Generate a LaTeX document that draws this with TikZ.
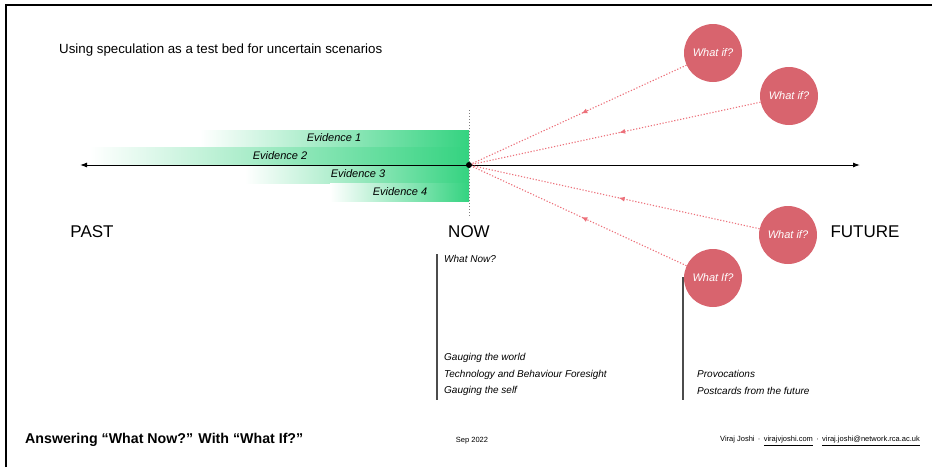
\documentclass[tikz,border=0pt]{standalone}
\usepackage{fontspec}
\setmainfont{Liberation Sans}
\usetikzlibrary{arrows.meta,decorations.markings}

\definecolor{whatred}{RGB}{216,100,110}
\definecolor{linered}{RGB}{236,112,122}
\definecolor{evgreen}{RGB}{52,211,128}
\definecolor{evteal}{RGB}{165,225,215}

\tikzset{
  evbar/.style={left color=white, middle color=evteal, right color=evgreen, draw=none},
  evtext/.style={font=\fontsize{11}{13}\selectfont\itshape, inner sep=0pt},
  whatif/.style={circle, fill=whatred, minimum size=58pt, inner sep=0pt, text=white,
    font=\fontsize{11}{13}\selectfont\itshape},
  whatline/.style={linered, line width=1.1pt, dash pattern=on 1.2pt off 1.8pt,
    postaction={decorate}, decoration={markings,
      mark=at position 0.49 with {\arrow{Latex[length=6pt,width=5pt]}}}},
  epoch/.style={font=\fontsize{17}{19}\selectfont, inner sep=0pt},
  notetext/.style={anchor=west, font=\fontsize{10}{12}\selectfont\itshape, inner sep=0pt},
  foot/.style={font=\fontsize{7.5}{9}\selectfont, inner sep=0pt},
}

\begin{document}
\begin{tikzpicture}[x=1pt,y=1pt,yscale=-1,xscale=1]
\useasboundingbox (0,0) rectangle (932,467);

%Frame
\draw[line width=1.5pt] (6,467) -- (6,5) -- (932,5);

% Text Node
\node[anchor=west, inner sep=0pt, font=\fontsize{13.3}{15}\selectfont] (title) at (59,50) {Using speculation as a test bed for uncertain scenarios};

%Evidence bars
\fill[evbar] (200,130) rectangle (469,147.5);
\fill[evbar] (90,147.5) rectangle (469,165);
\fill[evbar] (245,165) rectangle (469,183);
\fill[evbar] (330,183) rectangle (469,201);

% Text Node
\node[evtext] (ev1) at (334,138) {Evidence 1};
% Text Node
\node[evtext] (ev2) at (280,155.5) {Evidence 2};
% Text Node
\node[evtext] (ev3) at (358,173.5) {Evidence 3};
% Text Node
\node[evtext] (ev4) at (400,191.5) {Evidence 4};

%Now marker
\coordinate (nowtop) at (469,110);
\coordinate (nowbot) at (469,216);
\draw[gray, line width=1pt, dotted] (nowtop) -- (nowbot);

%Time axis
\coordinate (axl) at (80,165);
\coordinate (axr) at (860,165);
\draw[line width=1pt, {Latex[length=7pt,width=5pt]}-{Latex[length=7pt,width=5pt]}] (axl) -- (axr);
\node[circle, fill=black, inner sep=0pt, minimum size=6pt] (now) at (469,165) {};

% Text Node
\node[epoch] (past) at (92,232) {PAST};
% Text Node
\node[epoch] (nowlbl) at (469,232) {NOW};
% Text Node
\node[epoch] (future) at (865,232) {FUTURE};

%Note columns
\coordinate (lt) at (437,254);
\coordinate (lb) at (437,400);
\coordinate (rt) at (683,277);
\coordinate (rb) at (683,400);
\draw[black!70, line width=1.3pt] (lt) -- (lb);
\draw[black!70, line width=1.3pt] (rt) -- (rb);

% Text Node
\node[notetext] (whatnow) at (444,259) {What Now?};
% Text Node
\node[notetext] (world) at (444,358) {Gauging the world};
% Text Node
\node[notetext] (tech) at (444,375) {Technology and Behaviour Foresight};
% Text Node
\node[notetext] (self) at (444,391) {Gauging the self};
% Text Node
\node[notetext] (prov) at (697,374) {Provocations};
% Text Node
\node[notetext] (post) at (697,391) {Postcards from the future};

%What if circles
\node[whatif] (w1) at (713,53) {What if?};
\node[whatif] (w2) at (789,96) {What if?};
\node[whatif] (w3) at (788,235) {What if?};
\node[whatif] (w4) at (713,278) {What If?};

%Speculation lines
\draw[whatline] (w1) -- (now);
\draw[whatline] (w2) -- (now);
\draw[whatline] (w3) -- (now);
\draw[whatline] (w4) -- (now);

%Footer
\node[anchor=west, inner sep=0pt, font=\fontsize{14.2}{16}\selectfont\bfseries] (answer) at (25,440) {Answering “What Now?” With “What If?”};
\node[foot] (date) at (472,441) {Sep 2022};
\node[foot, anchor=east] (author) at (920,441) {Viraj Joshi \,·\, \underline{virajvjoshi.com} \,·\, \underline{viraj.joshi@network.rca.ac.uk}};

\end{tikzpicture}
\end{document}
